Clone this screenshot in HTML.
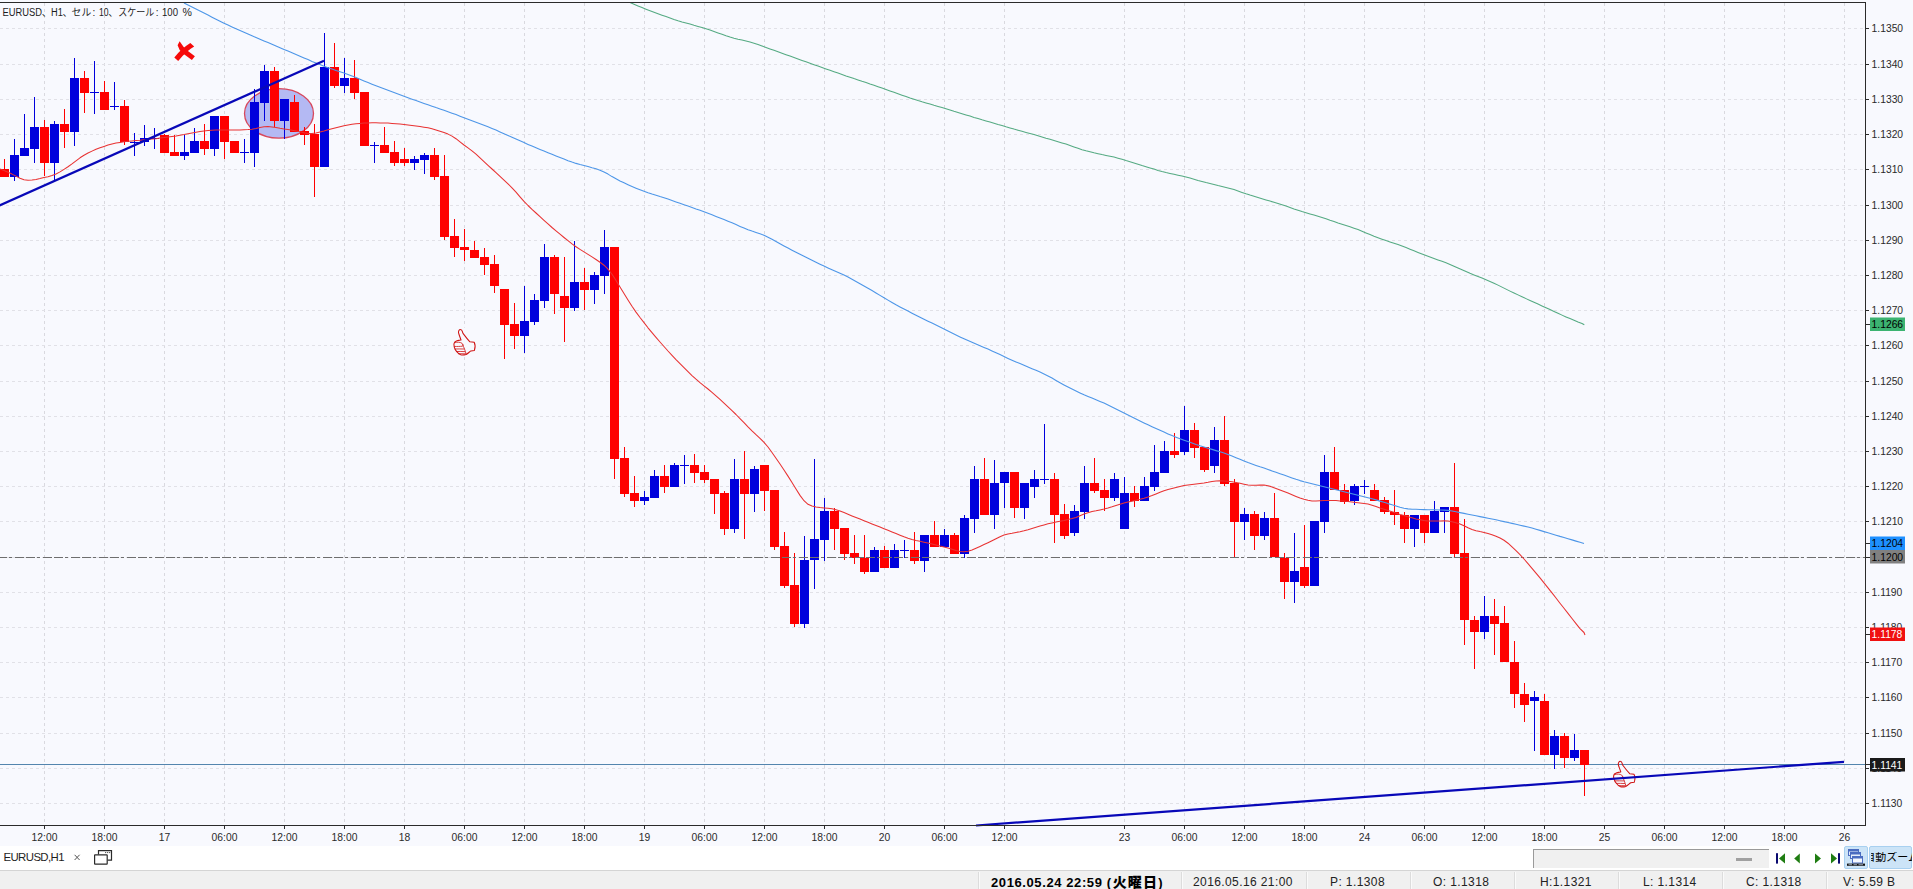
<!DOCTYPE html>
<html lang="ja"><head><meta charset="utf-8"><title>EURUSD,H1</title>
<style>
html,body{margin:0;padding:0}
body{width:1913px;height:889px;position:relative;overflow:hidden;background:#fff;font-family:"Liberation Sans","Noto Sans CJK JP",sans-serif;color:#222}
.abs{position:absolute}
#tabbar{left:0;top:846px;width:1913px;height:24px;background:#fff}
#status{left:0;top:870px;width:1913px;height:19px;background:#f0f0f0;border-top:1px solid #d4d4d4;box-sizing:border-box;font-size:12px;letter-spacing:0.4px}
#status span{position:absolute;top:3.8px;white-space:nowrap;line-height:14px}
#status i{position:absolute;top:1px;width:1px;height:18px;background:#dcdcdc;border-right:1px solid #fafafa}
#tab{left:3.5px;top:850px;font-size:11.4px;letter-spacing:-0.6px;line-height:14px;color:#1e1e1e;white-space:nowrap}
#scroll{left:1533px;top:849px;width:236px;height:19px;background:#f0f0f0;border-top:1px solid #9a9a9a;border-left:1px solid #9a9a9a;box-sizing:border-box}
.btn{background:#cce4f7;border:1px solid #a8d0f0;box-sizing:border-box;top:846px;height:23px;border-radius:2px}
</style></head><body>
<svg width="1913" height="846" viewBox="0 0 1913 846" style="position:absolute;left:0;top:0">
<rect x="0" y="0" width="1913" height="846" fill="#f8f9fe"/>
<path d="M44.5 3V825 M104.5 3V825 M164.5 3V825 M224.5 3V825 M284.5 3V825 M344.5 3V825 M404.5 3V825 M464.5 3V825 M524.5 3V825 M584.5 3V825 M644.5 3V825 M704.5 3V825 M764.5 3V825 M824.5 3V825 M884.5 3V825 M944.5 3V825 M1004.5 3V825 M1124.5 3V825 M1184.5 3V825 M1244.5 3V825 M1304.5 3V825 M1364.5 3V825 M1424.5 3V825 M1484.5 3V825 M1544.5 3V825 M1604.5 3V825 M1664.5 3V825 M1724.5 3V825 M1784.5 3V825 M1844.5 3V825" stroke="#d9d9df" stroke-width="1" stroke-dasharray="3 3" fill="none" shape-rendering="crispEdges"/>
<path d="M0 28.5H1865 M0 64.5H1865 M0 99.5H1865 M0 134.5H1865 M0 169.5H1865 M0 205.5H1865 M0 240.5H1865 M0 275.5H1865 M0 310.5H1865 M0 345.5H1865 M0 381.5H1865 M0 416.5H1865 M0 451.5H1865 M0 486.5H1865 M0 521.5H1865 M0 557.5H1865 M0 592.5H1865 M0 627.5H1865 M0 662.5H1865 M0 697.5H1865 M0 733.5H1865 M0 768.5H1865 M0 803.5H1865" stroke="#e1e1e7" stroke-width="1" stroke-dasharray="3 3" fill="none" shape-rendering="crispEdges"/>
<ellipse cx="279" cy="113.4" rx="34.5" ry="24.7" fill="#b4b9f3" stroke="#d8485c" stroke-width="1.3"/>
<rect x="448.5" y="327.6" width="30" height="29.2" fill="#f8f9fe"/><rect x="1615" y="762" width="16.5" height="25" fill="#f8f9fe"/>
<path d="M0 764.5H1865" stroke="#5385ae" stroke-width="1" fill="none" shape-rendering="crispEdges"/>
<path d="M4 159h1V177h-1z M0 169h9V177h-9z M44 120h1V176h-1z M40 127h9V163h-9z M64 109h1V148h-1z M60 124h9V132h-9z M84 71h1V113h-1z M80 78h9V93h-9z M104 81h1V110h-1z M100 92h9V110h-9z M124 100h1V145h-1z M120 106h9V142h-9z M164 134h1V153h-1z M160 135h9V153h-9z M174 135h1V156h-1z M170 152h9V156h-9z M204 124h1V155h-1z M200 141h9V149h-9z M224 116h1V159h-1z M220 116h9V142h-9z M234 141h1V153h-1z M230 141h9V153h-9z M274 67h1V127h-1z M270 71h9V121h-9z M294 95h1V132h-1z M290 102h9V132h-9z M304 127h1V145h-1z M300 131h9V135h-9z M314 124h1V197h-1z M310 134h9V167h-9z M334 43h1V88h-1z M330 67h9V86h-9z M354 60h1V99h-1z M350 78h9V93h-9z M364 92h1V146h-1z M360 92h9V146h-9z M384 127h1V153h-1z M380 145h9V153h-9z M394 141h1V166h-1z M390 152h9V163h-9z M404 148h1V166h-1z M400 159h9V163h-9z M434 148h1V180h-1z M430 155h9V177h-9z M444 155h1V240h-1z M440 176h9V237h-9z M454 219h1V257h-1z M450 236h9V248h-9z M464 229h1V261h-1z M460 247h9V250h-9z M474 241h1V258h-1z M470 250h9V258h-9z M484 248h1V275h-1z M480 257h9V265h-9z M494 255h1V293h-1z M490 264h9V286h-9z M504 289h1V359h-1z M500 289h9V325h-9z M514 303h1V349h-1z M510 324h9V336h-9z M554 255h1V314h-1z M550 257h9V294h-9z M564 257h1V342h-1z M560 296h9V308h-9z M584 268h1V310h-1z M580 282h9V290h-9z M614 247h1V479h-1z M610 247h9V459h-9z M624 447h1V497h-1z M620 458h9V494h-9z M634 476h1V507h-1z M630 493h9V501h-9z M664 465h1V493h-1z M660 476h9V487h-9z M694 454h1V483h-1z M690 465h9V473h-9z M704 465h1V483h-1z M700 472h9V480h-9z M714 479h1V514h-1z M710 479h9V494h-9z M724 491h1V535h-1z M720 493h9V529h-9z M744 451h1V539h-1z M740 479h9V494h-9z M764 465h1V511h-1z M760 465h9V491h-9z M774 490h1V550h-1z M770 490h9V547h-9z M784 532h1V588h-1z M780 546h9V586h-9z M794 553h1V627h-1z M790 585h9V624h-9z M834 508h1V550h-1z M830 511h9V529h-9z M844 528h1V560h-1z M840 528h9V554h-9z M854 535h1V564h-1z M850 553h9V558h-9z M864 535h1V574h-1z M860 558h9V572h-9z M884 546h1V568h-1z M880 550h9V568h-9z M914 532h1V564h-1z M910 550h9V561h-9z M934 521h1V547h-1z M930 535h9V547h-9z M954 533h1V554h-1z M950 535h9V554h-9z M984 458h1V515h-1z M980 479h9V515h-9z M1014 472h1V518h-1z M1010 472h9V508h-9z M1054 473h1V543h-1z M1050 479h9V515h-9z M1064 504h1V539h-1z M1060 514h9V536h-9z M1094 458h1V493h-1z M1090 483h9V491h-9z M1104 479h1V511h-1z M1100 490h9V498h-9z M1134 486h1V507h-1z M1130 493h9V501h-9z M1174 433h1V458h-1z M1170 451h9V455h-9z M1194 423h1V458h-1z M1190 430h9V448h-9z M1204 447h1V472h-1z M1200 447h9V470h-9z M1224 416h1V486h-1z M1220 440h9V484h-9z M1234 479h1V557h-1z M1230 483h9V522h-9z M1254 511h1V550h-1z M1250 514h9V536h-9z M1274 493h1V557h-1z M1270 518h9V557h-9z M1284 553h1V599h-1z M1280 558h9V582h-9z M1304 525h1V588h-1z M1300 567h9V586h-9z M1334 447h1V490h-1z M1330 472h9V490h-9z M1344 484h1V504h-1z M1340 490h9V502h-9z M1374 484h1V501h-1z M1370 490h9V501h-9z M1384 497h1V514h-1z M1380 500h9V512h-9z M1394 490h1V525h-1z M1390 512h9V515h-9z M1404 512h1V543h-1z M1400 515h9V529h-9z M1424 515h1V543h-1z M1420 515h9V533h-9z M1454 463h1V557h-1z M1450 507h9V554h-9z M1464 519h1V645h-1z M1460 553h9V620h-9z M1474 616h1V669h-1z M1470 620h9V632h-9z M1494 599h1V655h-1z M1490 616h9V624h-9z M1504 606h1V662h-1z M1500 623h9V662h-9z M1514 641h1V708h-1z M1510 662h9V694h-9z M1524 683h1V722h-1z M1520 694h9V705h-9z M1544 694h1V755h-1z M1540 701h9V755h-9z M1564 733h1V768h-1z M1560 736h9V758h-9z M1584 750h1V796h-1z M1580 750h9V765h-9z" fill="#fe0000" shape-rendering="crispEdges"/>
<path d="M14 139h1V181h-1z M10 155h9V177h-9z M24 114h1V156h-1z M20 148h9V156h-9z M34 97h1V163h-1z M30 127h9V149h-9z M54 121h1V181h-1z M50 124h9V163h-9z M74 58h1V146h-1z M70 78h9V132h-9z M94 61h1V114h-1z M90 92h9V93h-9z M114 82h1V110h-1z M110 106h9V107h-9z M134 133h1V156h-1z M130 142h9V143h-9z M144 125h1V146h-1z M140 138h9V142h-9z M154 128h1V149h-1z M150 138h9V139h-9z M184 135h1V160h-1z M180 152h9V156h-9z M194 128h1V153h-1z M190 141h9V153h-9z M214 116h1V156h-1z M210 116h9V149h-9z M244 139h1V163h-1z M240 152h9V153h-9z M254 89h1V167h-1z M250 102h9V153h-9z M264 65h1V121h-1z M260 71h9V103h-9z M284 99h1V139h-1z M280 99h9V121h-9z M324 33h1V167h-1z M320 67h9V167h-9z M344 58h1V93h-1z M340 78h9V86h-9z M374 142h1V163h-1z M370 145h9V146h-9z M414 156h1V170h-1z M410 159h9V163h-9z M424 153h1V174h-1z M420 155h9V160h-9z M524 286h1V353h-1z M520 321h9V336h-9z M534 294h1V325h-1z M530 300h9V322h-9z M544 244h1V308h-1z M540 257h9V301h-9z M574 241h1V311h-1z M570 282h9V308h-9z M594 272h1V304h-1z M590 275h9V290h-9z M604 230h1V294h-1z M600 247h9V276h-9z M644 491h1V505h-1z M640 497h9V501h-9z M654 470h1V498h-1z M650 476h9V498h-9z M674 463h1V487h-1z M670 465h9V487h-9z M684 455h1V484h-1z M680 465h9V466h-9z M734 459h1V533h-1z M730 479h9V529h-9z M754 466h1V512h-1z M750 469h9V494h-9z M804 536h1V628h-1z M800 560h9V624h-9z M814 459h1V589h-1z M810 539h9V560h-9z M824 498h1V561h-1z M820 511h9V540h-9z M874 547h1V572h-1z M870 550h9V572h-9z M894 544h1V568h-1z M890 550h9V568h-9z M904 540h1V558h-1z M900 550h9V551h-9z M924 535h1V572h-1z M920 535h9V561h-9z M944 529h1V547h-1z M940 535h9V547h-9z M964 515h1V558h-1z M960 518h9V554h-9z M974 466h1V533h-1z M970 479h9V519h-9z M994 460h1V529h-1z M990 483h9V515h-9z M1004 472h1V508h-1z M1000 472h9V483h-9z M1024 483h1V519h-1z M1020 483h9V508h-9z M1034 470h1V498h-1z M1030 479h9V487h-9z M1044 424h1V484h-1z M1040 479h9V480h-9z M1074 505h1V536h-1z M1070 511h9V533h-9z M1084 466h1V519h-1z M1080 483h9V512h-9z M1114 473h1V501h-1z M1110 479h9V498h-9z M1124 477h1V529h-1z M1120 493h9V529h-9z M1144 477h1V501h-1z M1140 486h9V501h-9z M1154 445h1V491h-1z M1150 472h9V487h-9z M1164 441h1V473h-1z M1160 451h9V473h-9z M1184 406h1V455h-1z M1180 430h9V452h-9z M1214 427h1V473h-1z M1210 440h9V466h-9z M1244 508h1V540h-1z M1240 514h9V522h-9z M1264 512h1V540h-1z M1260 518h9V536h-9z M1294 533h1V603h-1z M1290 571h9V582h-9z M1314 521h1V586h-1z M1310 521h9V586h-9z M1324 455h1V533h-1z M1320 472h9V522h-9z M1354 484h1V505h-1z M1350 486h9V501h-9z M1364 480h1V494h-1z M1360 486h9V487h-9z M1414 515h1V547h-1z M1410 515h9V529h-9z M1434 501h1V533h-1z M1430 511h9V533h-9z M1444 507h1V533h-1z M1440 507h9V512h-9z M1484 596h1V639h-1z M1480 616h9V632h-9z M1534 691h1V751h-1z M1530 697h9V701h-9z M1554 730h1V769h-1z M1550 736h9V755h-9z M1574 734h1V761h-1z M1570 750h9V758h-9z" fill="#0000dc" shape-rendering="crispEdges"/>
<path d="M-12.7 557.5H1865" stroke="#6e6e6e" stroke-width="1" stroke-dasharray="9 2 9 2 3 3" fill="none" shape-rendering="crispEdges"/>
<path d="M630.0 2.6 L634.0 4.3 L638.0 5.9 L642.0 7.6 L646.0 9.2 L650.0 10.8 L654.0 12.3 L658.0 13.8 L662.0 15.2 L666.0 16.6 L670.0 18.0 L674.0 19.4 L678.0 20.7 L682.0 21.9 L686.0 23.0 L690.0 24.1 L694.0 25.3 L698.0 26.4 L702.0 27.5 L706.0 28.8 L710.0 30.1 L714.0 31.5 L718.0 32.9 L722.0 34.3 L726.0 35.7 L730.0 37.0 L734.0 38.2 L738.0 39.2 L742.0 40.1 L746.0 41.1 L750.0 42.1 L754.0 43.2 L758.0 44.5 L762.0 45.9 L766.0 47.4 L770.0 48.9 L774.0 50.3 L778.0 51.8 L782.0 53.2 L786.0 54.7 L790.0 56.1 L794.0 57.5 L798.0 59.0 L802.0 60.4 L806.0 61.8 L810.0 63.3 L814.0 64.7 L818.0 66.1 L822.0 67.5 L826.0 68.9 L830.0 70.3 L834.0 71.7 L838.0 73.1 L842.0 74.5 L846.0 75.9 L850.0 77.2 L854.0 78.6 L858.0 79.9 L862.0 81.3 L866.0 82.6 L870.0 84.0 L874.0 85.3 L878.0 86.7 L882.0 88.1 L886.0 89.5 L890.0 90.9 L894.0 92.3 L898.0 93.8 L902.0 95.2 L906.0 96.6 L910.0 98.0 L914.0 99.3 L918.0 100.6 L922.0 101.8 L926.0 102.9 L930.0 104.1 L934.0 105.3 L938.0 106.4 L942.0 107.6 L946.0 108.8 L950.0 110.0 L954.0 111.3 L958.0 112.5 L962.0 113.7 L966.0 114.9 L970.0 116.1 L974.0 117.4 L978.0 118.6 L982.0 119.8 L986.0 120.9 L990.0 122.1 L994.0 123.3 L998.0 124.5 L1002.0 125.6 L1006.0 126.8 L1010.0 127.9 L1014.0 129.1 L1018.0 130.2 L1022.0 131.3 L1026.0 132.4 L1030.0 133.5 L1034.0 134.6 L1038.0 135.8 L1042.0 137.0 L1046.0 138.2 L1050.0 139.3 L1054.0 140.5 L1058.0 141.7 L1062.0 142.9 L1066.0 144.1 L1070.0 145.5 L1074.0 146.9 L1078.0 148.3 L1082.0 149.7 L1086.0 150.8 L1090.0 151.8 L1094.0 152.8 L1098.0 153.7 L1102.0 154.6 L1106.0 155.4 L1110.0 156.2 L1114.0 157.1 L1118.0 158.2 L1122.0 159.3 L1126.0 160.6 L1130.0 161.8 L1134.0 163.0 L1138.0 164.2 L1142.0 165.5 L1146.0 166.7 L1150.0 167.9 L1154.0 169.1 L1158.0 170.4 L1162.0 171.5 L1166.0 172.5 L1170.0 173.4 L1174.0 174.3 L1178.0 175.2 L1182.0 176.1 L1186.0 177.0 L1190.0 178.1 L1194.0 179.2 L1198.0 180.4 L1202.0 181.5 L1206.0 182.6 L1210.0 183.6 L1214.0 184.6 L1218.0 185.6 L1222.0 186.5 L1226.0 187.5 L1230.0 188.5 L1234.0 189.6 L1238.0 190.9 L1242.0 192.4 L1246.0 193.8 L1250.0 195.1 L1254.0 196.3 L1258.0 197.5 L1262.0 198.7 L1266.0 199.9 L1270.0 201.1 L1274.0 202.3 L1278.0 203.5 L1282.0 204.8 L1286.0 206.1 L1290.0 207.5 L1294.0 208.9 L1298.0 210.2 L1302.0 211.5 L1306.0 212.7 L1310.0 213.9 L1314.0 215.1 L1318.0 216.3 L1322.0 217.5 L1326.0 218.8 L1330.0 220.2 L1334.0 221.5 L1338.0 222.9 L1342.0 224.2 L1346.0 225.5 L1350.0 226.8 L1354.0 228.2 L1358.0 229.6 L1362.0 231.2 L1366.0 232.9 L1370.0 234.5 L1374.0 236.2 L1378.0 237.7 L1382.0 239.2 L1386.0 240.6 L1390.0 241.9 L1394.0 243.2 L1398.0 244.6 L1402.0 246.1 L1406.0 247.6 L1410.0 249.2 L1414.0 250.8 L1418.0 252.4 L1422.0 253.9 L1426.0 255.5 L1430.0 257.0 L1434.0 258.5 L1438.0 259.9 L1442.0 261.3 L1446.0 262.8 L1450.0 264.4 L1454.0 266.2 L1458.0 267.9 L1462.0 269.7 L1466.0 271.5 L1470.0 273.3 L1474.0 274.9 L1478.0 276.5 L1482.0 278.1 L1486.0 279.7 L1490.0 281.4 L1494.0 283.2 L1498.0 285.1 L1502.0 287.1 L1506.0 289.1 L1510.0 291.1 L1514.0 293.0 L1518.0 294.9 L1522.0 296.7 L1526.0 298.6 L1530.0 300.4 L1534.0 302.3 L1538.0 304.1 L1542.0 305.9 L1546.0 307.8 L1550.0 309.6 L1554.0 311.4 L1558.0 313.2 L1562.0 315.1 L1566.0 316.9 L1570.0 318.6 L1574.0 320.3 L1578.0 322.0 L1582.0 323.5 L1584.3 324.7" stroke="#54aa82" stroke-width="1.05" fill="none" stroke-linejoin="round"/>
<path d="M184.0 3.0 L188.0 5.0 L192.0 7.0 L196.0 9.1 L200.0 11.1 L204.0 13.1 L208.0 15.1 L212.0 17.2 L216.0 19.2 L220.0 21.2 L224.0 23.2 L228.0 25.1 L232.0 26.9 L236.0 28.7 L240.0 30.5 L244.0 32.3 L248.0 34.1 L252.0 35.8 L256.0 37.5 L260.0 39.2 L264.0 40.9 L268.0 42.6 L272.0 44.3 L276.0 46.0 L280.0 47.7 L284.0 49.4 L288.0 51.1 L292.0 52.8 L296.0 54.5 L300.0 56.2 L304.0 57.9 L308.0 59.6 L312.0 61.4 L316.0 63.0 L320.0 64.6 L324.0 66.2 L328.0 67.7 L332.0 69.1 L336.0 70.5 L340.0 71.8 L344.0 73.1 L348.0 74.5 L352.0 76.0 L356.0 77.6 L360.0 79.3 L364.0 80.9 L368.0 82.6 L372.0 84.2 L376.0 85.7 L380.0 87.2 L384.0 88.7 L388.0 90.2 L392.0 91.7 L396.0 93.2 L400.0 94.8 L404.0 96.3 L408.0 97.8 L412.0 99.2 L416.0 100.6 L420.0 102.0 L424.0 103.4 L428.0 104.8 L432.0 106.2 L436.0 107.6 L440.0 108.9 L444.0 110.3 L448.0 111.7 L452.0 113.2 L456.0 114.6 L460.0 116.2 L464.0 117.7 L468.0 119.2 L472.0 120.7 L476.0 122.2 L480.0 123.7 L484.0 125.3 L488.0 126.8 L492.0 128.4 L496.0 130.1 L500.0 131.9 L504.0 133.7 L508.0 135.5 L512.0 137.2 L516.0 139.0 L520.0 140.8 L524.0 142.6 L528.0 144.4 L532.0 146.1 L536.0 147.8 L540.0 149.4 L544.0 151.0 L548.0 152.7 L552.0 154.3 L556.0 155.9 L560.0 157.5 L564.0 159.1 L568.0 160.7 L572.0 162.1 L576.0 163.4 L580.0 164.5 L584.0 165.5 L588.0 166.5 L592.0 167.7 L596.0 168.8 L600.0 170.2 L604.0 171.9 L608.0 174.1 L612.0 176.6 L616.0 178.8 L620.0 180.9 L624.0 182.8 L628.0 184.7 L632.0 186.5 L636.0 188.2 L640.0 189.8 L644.0 191.3 L648.0 192.7 L652.0 194.0 L656.0 195.2 L660.0 196.5 L664.0 197.7 L668.0 199.1 L672.0 200.5 L676.0 201.9 L680.0 203.3 L684.0 204.7 L688.0 206.1 L692.0 207.5 L696.0 208.9 L700.0 210.2 L704.0 211.7 L708.0 213.2 L712.0 214.8 L716.0 216.4 L720.0 218.0 L724.0 219.5 L728.0 221.2 L732.0 222.8 L736.0 224.6 L740.0 226.4 L744.0 228.1 L748.0 229.7 L752.0 231.1 L756.0 232.4 L760.0 233.8 L764.0 235.3 L768.0 237.2 L772.0 239.3 L776.0 241.5 L780.0 243.7 L784.0 245.9 L788.0 248.0 L792.0 250.2 L796.0 252.3 L800.0 254.3 L804.0 256.3 L808.0 258.3 L812.0 260.2 L816.0 262.2 L820.0 264.2 L824.0 266.1 L828.0 268.0 L832.0 269.8 L836.0 271.5 L840.0 273.3 L844.0 275.1 L848.0 277.1 L852.0 279.3 L856.0 281.5 L860.0 283.8 L864.0 286.0 L868.0 288.3 L872.0 290.6 L876.0 293.0 L880.0 295.4 L884.0 297.7 L888.0 300.1 L892.0 302.5 L896.0 304.8 L900.0 306.9 L904.0 309.0 L908.0 311.1 L912.0 313.2 L916.0 315.2 L920.0 317.3 L924.0 319.3 L928.0 321.2 L932.0 323.1 L936.0 325.1 L940.0 327.0 L944.0 328.9 L948.0 330.9 L952.0 332.9 L956.0 334.9 L960.0 336.9 L964.0 338.8 L968.0 340.6 L972.0 342.3 L976.0 344.0 L980.0 345.7 L984.0 347.4 L988.0 349.1 L992.0 350.9 L996.0 352.8 L1000.0 354.6 L1004.0 356.5 L1008.0 358.4 L1012.0 360.2 L1016.0 361.9 L1020.0 363.6 L1024.0 365.3 L1028.0 367.0 L1032.0 368.7 L1036.0 370.3 L1040.0 372.0 L1044.0 373.9 L1048.0 375.9 L1052.0 378.1 L1056.0 380.4 L1060.0 382.7 L1064.0 384.9 L1068.0 387.0 L1072.0 389.0 L1076.0 391.0 L1080.0 392.9 L1084.0 394.8 L1088.0 396.5 L1092.0 398.1 L1096.0 399.7 L1100.0 401.4 L1104.0 403.1 L1108.0 405.0 L1112.0 406.9 L1116.0 408.9 L1120.0 410.9 L1124.0 412.9 L1128.0 414.9 L1132.0 416.9 L1136.0 418.9 L1140.0 420.9 L1144.0 422.9 L1148.0 424.8 L1152.0 426.7 L1156.0 428.5 L1160.0 430.3 L1164.0 432.1 L1168.0 433.9 L1172.0 435.6 L1176.0 437.2 L1180.0 438.7 L1184.0 440.2 L1188.0 441.6 L1192.0 443.1 L1196.0 444.5 L1200.0 445.8 L1204.0 447.0 L1208.0 448.2 L1212.0 449.4 L1216.0 450.6 L1220.0 451.8 L1224.0 453.1 L1228.0 454.5 L1232.0 456.1 L1236.0 457.7 L1240.0 459.3 L1244.0 460.9 L1248.0 462.5 L1252.0 463.9 L1256.0 465.4 L1260.0 466.8 L1264.0 468.1 L1268.0 469.5 L1272.0 470.9 L1276.0 472.3 L1280.0 473.7 L1284.0 475.1 L1288.0 476.5 L1292.0 477.9 L1296.0 479.3 L1300.0 480.6 L1304.0 481.7 L1308.0 482.7 L1312.0 483.7 L1316.0 484.7 L1320.0 485.7 L1324.0 486.7 L1328.0 487.7 L1332.0 488.7 L1336.0 489.7 L1340.0 490.7 L1344.0 491.7 L1348.0 492.7 L1352.0 493.7 L1356.0 494.7 L1360.0 495.7 L1364.0 496.7 L1368.0 497.7 L1372.0 498.8 L1376.0 499.9 L1380.0 501.1 L1384.0 502.3 L1388.0 503.6 L1392.0 504.8 L1396.0 506.0 L1400.0 507.3 L1404.0 508.3 L1408.0 508.9 L1412.0 509.2 L1416.0 509.3 L1420.0 509.5 L1424.0 509.6 L1428.0 509.7 L1432.0 509.8 L1436.0 509.9 L1440.0 510.0 L1444.0 510.1 L1448.0 510.4 L1452.0 511.0 L1456.0 511.8 L1460.0 512.6 L1464.0 513.4 L1468.0 514.2 L1472.0 515.0 L1476.0 515.8 L1480.0 516.6 L1484.0 517.4 L1488.0 518.2 L1492.0 519.0 L1496.0 519.8 L1500.0 520.7 L1504.0 521.6 L1508.0 522.5 L1512.0 523.4 L1516.0 524.3 L1520.0 525.2 L1524.0 526.1 L1528.0 527.0 L1532.0 528.0 L1536.0 529.2 L1540.0 530.4 L1544.0 531.6 L1548.0 532.8 L1552.0 534.0 L1556.0 535.2 L1560.0 536.4 L1564.0 537.5 L1568.0 538.7 L1572.0 539.9 L1576.0 541.1 L1580.0 542.3 L1584.0 543.5" stroke="#4d96e8" stroke-width="1.1" fill="none" stroke-linejoin="round"/>
<path d="M0.0 169.0 L4.0 170.6 L8.0 172.3 L12.0 174.1 L16.0 176.1 L20.0 178.2 L24.0 179.7 L28.0 180.3 L32.0 180.0 L36.0 179.4 L40.0 178.6 L44.0 177.6 L48.0 176.7 L52.0 175.6 L56.0 174.0 L60.0 171.9 L64.0 169.4 L68.0 166.8 L72.0 163.9 L76.0 160.8 L80.0 157.8 L84.0 155.2 L88.0 153.0 L92.0 151.1 L96.0 149.3 L100.0 147.8 L104.0 146.4 L108.0 145.1 L112.0 143.9 L116.0 143.0 L120.0 142.4 L124.0 141.8 L128.0 141.3 L132.0 140.9 L136.0 140.5 L140.0 140.2 L144.0 139.8 L148.0 139.5 L152.0 139.1 L156.0 138.7 L160.0 138.1 L164.0 137.6 L168.0 137.0 L172.0 136.4 L176.0 135.9 L180.0 135.2 L184.0 134.6 L188.0 133.8 L192.0 133.0 L196.0 132.2 L200.0 131.5 L204.0 130.9 L208.0 130.5 L212.0 130.3 L216.0 130.1 L220.0 130.0 L224.0 130.0 L228.0 130.0 L232.0 130.0 L236.0 130.0 L240.0 130.0 L244.0 129.8 L248.0 129.6 L252.0 129.2 L256.0 128.5 L260.0 127.5 L264.0 126.8 L268.0 126.6 L272.0 127.0 L276.0 127.6 L280.0 128.3 L284.0 128.9 L288.0 129.6 L292.0 130.3 L296.0 131.0 L300.0 131.8 L304.0 132.8 L308.0 133.6 L312.0 133.6 L316.0 132.9 L320.0 131.9 L324.0 130.9 L328.0 129.8 L332.0 128.8 L336.0 127.8 L340.0 126.8 L344.0 125.8 L348.0 124.9 L352.0 124.2 L356.0 123.8 L360.0 123.4 L364.0 123.1 L368.0 122.9 L372.0 122.7 L376.0 122.8 L380.0 122.9 L384.0 123.0 L388.0 123.1 L392.0 123.4 L396.0 123.7 L400.0 124.1 L404.0 124.5 L408.0 124.9 L412.0 125.4 L416.0 126.0 L420.0 126.6 L424.0 127.2 L428.0 127.8 L432.0 128.7 L436.0 129.9 L440.0 131.2 L444.0 132.6 L448.0 134.1 L452.0 136.1 L456.0 138.7 L460.0 141.9 L464.0 145.0 L468.0 147.9 L472.0 150.9 L476.0 154.2 L480.0 157.9 L484.0 161.6 L488.0 165.3 L492.0 169.0 L496.0 172.7 L500.0 176.4 L504.0 180.1 L508.0 183.8 L512.0 187.8 L516.0 192.1 L520.0 196.8 L524.0 201.3 L528.0 205.5 L532.0 209.4 L536.0 213.0 L540.0 216.7 L544.0 220.3 L548.0 223.9 L552.0 227.5 L556.0 230.9 L560.0 234.2 L564.0 237.5 L568.0 240.7 L572.0 243.9 L576.0 246.7 L580.0 249.4 L584.0 251.9 L588.0 254.4 L592.0 256.9 L596.0 259.5 L600.0 262.3 L604.0 265.2 L608.0 269.1 L612.0 274.2 L616.0 280.4 L620.0 287.0 L624.0 293.5 L628.0 300.0 L632.0 306.3 L636.0 312.1 L640.0 317.5 L644.0 322.6 L648.0 327.8 L652.0 332.7 L656.0 337.4 L660.0 342.0 L664.0 346.5 L668.0 351.0 L672.0 355.3 L676.0 359.6 L680.0 363.6 L684.0 367.7 L688.0 371.7 L692.0 375.6 L696.0 379.2 L700.0 382.6 L704.0 385.8 L708.0 389.0 L712.0 392.3 L716.0 395.8 L720.0 399.4 L724.0 403.1 L728.0 406.9 L732.0 410.6 L736.0 414.5 L740.0 418.6 L744.0 422.7 L748.0 426.9 L752.0 430.9 L756.0 434.7 L760.0 438.3 L764.0 442.3 L768.0 447.0 L772.0 452.5 L776.0 458.3 L780.0 464.0 L784.0 470.0 L788.0 476.1 L792.0 482.5 L796.0 489.0 L800.0 495.4 L804.0 500.7 L808.0 504.3 L812.0 506.0 L816.0 506.9 L820.0 507.5 L824.0 507.9 L828.0 508.3 L832.0 508.8 L836.0 509.7 L840.0 511.0 L844.0 512.6 L848.0 514.2 L852.0 515.9 L856.0 517.5 L860.0 519.1 L864.0 520.7 L868.0 522.3 L872.0 523.9 L876.0 525.5 L880.0 527.1 L884.0 528.7 L888.0 530.3 L892.0 531.9 L896.0 533.5 L900.0 535.2 L904.0 536.8 L908.0 538.2 L912.0 539.4 L916.0 540.4 L920.0 541.3 L924.0 542.2 L928.0 543.1 L932.0 544.0 L936.0 545.0 L940.0 546.0 L944.0 546.9 L948.0 548.0 L952.0 549.2 L956.0 550.5 L960.0 551.5 L964.0 551.8 L968.0 551.2 L972.0 549.9 L976.0 548.2 L980.0 546.4 L984.0 544.6 L988.0 542.7 L992.0 540.7 L996.0 538.7 L1000.0 536.7 L1004.0 535.1 L1008.0 533.9 L1012.0 533.2 L1016.0 532.4 L1020.0 531.7 L1024.0 530.8 L1028.0 529.7 L1032.0 528.5 L1036.0 527.3 L1040.0 526.1 L1044.0 524.9 L1048.0 523.8 L1052.0 522.9 L1056.0 522.1 L1060.0 521.3 L1064.0 520.5 L1068.0 519.6 L1072.0 518.6 L1076.0 517.4 L1080.0 515.8 L1084.0 514.1 L1088.0 512.8 L1092.0 511.6 L1096.0 510.8 L1100.0 509.9 L1104.0 509.0 L1108.0 507.9 L1112.0 506.7 L1116.0 505.4 L1120.0 504.2 L1124.0 503.1 L1128.0 502.1 L1132.0 501.2 L1136.0 500.2 L1140.0 499.3 L1144.0 498.3 L1148.0 497.1 L1152.0 495.6 L1156.0 493.9 L1160.0 492.2 L1164.0 490.7 L1168.0 489.4 L1172.0 488.4 L1176.0 487.4 L1180.0 486.4 L1184.0 485.6 L1188.0 484.9 L1192.0 484.4 L1196.0 483.9 L1200.0 483.4 L1204.0 482.9 L1208.0 482.3 L1212.0 481.4 L1216.0 480.9 L1220.0 480.8 L1224.0 481.0 L1228.0 481.3 L1232.0 481.8 L1236.0 482.4 L1240.0 483.3 L1244.0 484.2 L1248.0 484.9 L1252.0 485.2 L1256.0 485.2 L1260.0 485.1 L1264.0 485.1 L1268.0 485.7 L1272.0 486.9 L1276.0 488.4 L1280.0 489.9 L1284.0 491.5 L1288.0 493.1 L1292.0 494.8 L1296.0 496.4 L1300.0 497.9 L1304.0 499.2 L1308.0 500.3 L1312.0 500.9 L1316.0 501.1 L1320.0 500.8 L1324.0 500.5 L1328.0 500.4 L1332.0 500.4 L1336.0 500.6 L1340.0 500.9 L1344.0 501.1 L1348.0 501.5 L1352.0 501.9 L1356.0 502.4 L1360.0 502.9 L1364.0 503.4 L1368.0 504.1 L1372.0 505.2 L1376.0 506.5 L1380.0 507.9 L1384.0 509.2 L1388.0 510.5 L1392.0 511.8 L1396.0 513.1 L1400.0 514.4 L1404.0 515.6 L1408.0 516.7 L1412.0 517.8 L1416.0 518.9 L1420.0 519.7 L1424.0 520.5 L1428.0 520.9 L1432.0 521.1 L1436.0 521.0 L1440.0 520.9 L1444.0 520.8 L1448.0 521.1 L1452.0 521.8 L1456.0 522.8 L1460.0 524.1 L1464.0 525.8 L1468.0 527.8 L1472.0 529.5 L1476.0 530.7 L1480.0 531.6 L1484.0 532.4 L1488.0 533.5 L1492.0 534.8 L1496.0 536.3 L1500.0 538.0 L1504.0 540.3 L1508.0 543.2 L1512.0 546.9 L1516.0 550.6 L1520.0 554.6 L1524.0 559.0 L1528.0 563.6 L1532.0 568.3 L1536.0 573.1 L1540.0 577.9 L1544.0 582.8 L1548.0 587.8 L1552.0 592.9 L1556.0 598.0 L1560.0 603.2 L1564.0 608.3 L1568.0 613.4 L1572.0 618.5 L1576.0 623.6 L1580.0 628.6 L1584.0 632.5 L1585.0 635.0" stroke="#e83232" stroke-width="1.05" fill="none" stroke-linejoin="round"/>
<g fill="#f60a0a"><path d="M179.6 41.3L181.9 44.6Q183.6 47.6 186.6 50L194.9 56.3L191.9 60L183 53.6Q178.8 50 177.6 45.2Z"/><path d="M190.3 43.1L194.2 46.5Q186 51.2 178.2 61L174.3 57.6Q181 49 190.3 43.1Z"/></g>
<g transform="translate(453.4 329.1)" stroke="#cf1212" fill="none" stroke-linejoin="round" stroke-linecap="round">
<path stroke-width="1.05" d="M7.6 10.9C6.9 8.5 5.6 5.8 5.1 3.6C5 1.6 6 0.3 6.9 0.3C8.3 0.3 8.8 1.2 9 2.6C9.2 3.6 9.4 4 9.8 4.5C11.5 6.8 13.8 9.8 16.5 12.7L20.8 13.2C21.7 15 21.8 19 21 21.3L17.5 21.8C15.8 23 14.6 24.4 12.6 25.4C10.5 26 8.8 26 7.3 25.7C5.6 25 4.6 24 3.3 22.5C2 21 1.2 19.5 0.8 17.8C0.1 16 0.2 14.4 1.3 12.9C2.4 11.8 4.5 11.2 7.6 10.9Z"/>
<g stroke-width="0.8">
<path d="M1.3 13.6C3.8 12.8 6.8 12.9 8.6 14.2C9.8 15.2 10 16.3 9.2 17.1C6.5 17.3 4 17.5 1 17.3"/>
<path d="M1.8 19.9C4.5 19.9 8 19.7 10.6 19.9"/>
<path d="M3.2 22.4C6 22.4 9 22.3 11.4 22.5"/>
<path d="M5 24.6C7.5 24.7 9.8 24.6 12 24.7"/>
<path d="M9.2 15.5C10.6 18.3 11.9 21.6 12.8 25.2"/>
</g>
</g>
<g transform="translate(1613.2 761.0)" stroke="#cf1212" fill="none" stroke-linejoin="round" stroke-linecap="round">
<path stroke-width="1.05" d="M7.6 10.9C6.9 8.5 5.6 5.8 5.1 3.6C5 1.6 6 0.3 6.9 0.3C8.3 0.3 8.8 1.2 9 2.6C9.2 3.6 9.4 4 9.8 4.5C11.5 6.8 13.8 9.8 16.5 12.7L20.8 13.2C21.7 15 21.8 19 21 21.3L17.5 21.8C15.8 23 14.6 24.4 12.6 25.4C10.5 26 8.8 26 7.3 25.7C5.6 25 4.6 24 3.3 22.5C2 21 1.2 19.5 0.8 17.8C0.1 16 0.2 14.4 1.3 12.9C2.4 11.8 4.5 11.2 7.6 10.9Z"/>
<g stroke-width="0.8">
<path d="M1.3 13.6C3.8 12.8 6.8 12.9 8.6 14.2C9.8 15.2 10 16.3 9.2 17.1C6.5 17.3 4 17.5 1 17.3"/>
<path d="M1.8 19.9C4.5 19.9 8 19.7 10.6 19.9"/>
<path d="M3.2 22.4C6 22.4 9 22.3 11.4 22.5"/>
<path d="M5 24.6C7.5 24.7 9.8 24.6 12 24.7"/>
<path d="M9.2 15.5C10.6 18.3 11.9 21.6 12.8 25.2"/>
</g>
</g>
<path d="M-1 205.6L324 60.7" stroke="#0808b8" stroke-width="2.3" fill="none"/>
<path d="M976 825.5L1844 761.8" stroke="#0808b8" stroke-width="2.2" fill="none"/>
<path d="M0 2.5H1866 M1865.5 2V826 M0 825.5H1866" stroke="#2b2b2b" stroke-width="1.4" fill="none" shape-rendering="crispEdges"/>
<path d="M1866 28.5h3 M1866 64.5h3 M1866 99.5h3 M1866 134.5h3 M1866 169.5h3 M1866 205.5h3 M1866 240.5h3 M1866 275.5h3 M1866 310.5h3 M1866 345.5h3 M1866 381.5h3 M1866 416.5h3 M1866 451.5h3 M1866 486.5h3 M1866 521.5h3 M1866 557.5h3 M1866 592.5h3 M1866 627.5h3 M1866 662.5h3 M1866 697.5h3 M1866 733.5h3 M1866 768.5h3 M1866 803.5h3 M44.5 826v3 M104.5 826v3 M164.5 826v3 M224.5 826v3 M284.5 826v3 M344.5 826v3 M404.5 826v3 M464.5 826v3 M524.5 826v3 M584.5 826v3 M644.5 826v3 M704.5 826v3 M764.5 826v3 M824.5 826v3 M884.5 826v3 M944.5 826v3 M1004.5 826v3 M1124.5 826v3 M1184.5 826v3 M1244.5 826v3 M1304.5 826v3 M1364.5 826v3 M1424.5 826v3 M1484.5 826v3 M1544.5 826v3 M1604.5 826v3 M1664.5 826v3 M1724.5 826v3 M1784.5 826v3 M1844.5 826v3 M1866 324.5h4 M1866 543.5h4 M1866 557.5h4 M1866 634.5h4 M1866 764.5h4" stroke="#2b2b2b" stroke-width="1" fill="none" shape-rendering="crispEdges"/>
<g font-family="Liberation Sans, sans-serif" font-size="10.3" fill="#2a2a2a">
<text x="1871.6" y="32.2">1.1350</text>
<text x="1871.6" y="68.2">1.1340</text>
<text x="1871.6" y="103.2">1.1330</text>
<text x="1871.6" y="138.2">1.1320</text>
<text x="1871.6" y="173.2">1.1310</text>
<text x="1871.6" y="209.2">1.1300</text>
<text x="1871.6" y="244.2">1.1290</text>
<text x="1871.6" y="279.2">1.1280</text>
<text x="1871.6" y="314.2">1.1270</text>
<text x="1871.6" y="349.2">1.1260</text>
<text x="1871.6" y="385.2">1.1250</text>
<text x="1871.6" y="420.2">1.1240</text>
<text x="1871.6" y="455.2">1.1230</text>
<text x="1871.6" y="490.2">1.1220</text>
<text x="1871.6" y="525.2">1.1210</text>
<text x="1871.6" y="561.2">1.1200</text>
<text x="1871.6" y="596.2">1.1190</text>
<text x="1871.6" y="631.2">1.1180</text>
<text x="1871.6" y="666.2">1.1170</text>
<text x="1871.6" y="701.2">1.1160</text>
<text x="1871.6" y="737.2">1.1150</text>
<text x="1871.6" y="772.2">1.1140</text>
<text x="1871.6" y="807.2">1.1130</text>
</g>
<rect x="1870" y="317.5" width="35" height="13.5" fill="#3cb371"/>
<text x="1871.6" y="328.0" font-family="Liberation Sans, sans-serif" font-size="10.3" fill="#000">1.1266</text>
<rect x="1870" y="536.5" width="35" height="13.5" fill="#1e90ff"/>
<text x="1871.6" y="547.0" font-family="Liberation Sans, sans-serif" font-size="10.3" fill="#000">1.1204</text>
<rect x="1870" y="550.0" width="35" height="13.5" fill="#808080"/>
<text x="1871.6" y="560.5" font-family="Liberation Sans, sans-serif" font-size="10.3" fill="#000">1.1200</text>
<rect x="1870" y="627.5" width="35" height="13.5" fill="#f01010"/>
<text x="1871.6" y="638.0" font-family="Liberation Sans, sans-serif" font-size="10.3" fill="#fff">1.1178</text>
<rect x="1870" y="758.0" width="35" height="13.5" fill="#1a1a1a"/>
<text x="1871.6" y="768.5" font-family="Liberation Sans, sans-serif" font-size="10.3" fill="#fff">1.1141</text>
<g font-family="Liberation Sans, sans-serif" font-size="10.3" fill="#2a2a2a" text-anchor="middle">
<text x="44.5" y="840.6">12:00</text>
<text x="104.5" y="840.6">18:00</text>
<text x="164.5" y="840.6">17</text>
<text x="224.5" y="840.6">06:00</text>
<text x="284.5" y="840.6">12:00</text>
<text x="344.5" y="840.6">18:00</text>
<text x="404.5" y="840.6">18</text>
<text x="464.5" y="840.6">06:00</text>
<text x="524.5" y="840.6">12:00</text>
<text x="584.5" y="840.6">18:00</text>
<text x="644.5" y="840.6">19</text>
<text x="704.5" y="840.6">06:00</text>
<text x="764.5" y="840.6">12:00</text>
<text x="824.5" y="840.6">18:00</text>
<text x="884.5" y="840.6">20</text>
<text x="944.5" y="840.6">06:00</text>
<text x="1004.5" y="840.6">12:00</text>
<text x="1124.5" y="840.6">23</text>
<text x="1184.5" y="840.6">06:00</text>
<text x="1244.5" y="840.6">12:00</text>
<text x="1304.5" y="840.6">18:00</text>
<text x="1364.5" y="840.6">24</text>
<text x="1424.5" y="840.6">06:00</text>
<text x="1484.5" y="840.6">12:00</text>
<text x="1544.5" y="840.6">18:00</text>
<text x="1604.5" y="840.6">25</text>
<text x="1664.5" y="840.6">06:00</text>
<text x="1724.5" y="840.6">12:00</text>
<text x="1784.5" y="840.6">18:00</text>
<text x="1844.5" y="840.6">26</text>
</g>
<text y="15.6" font-family="Liberation Sans, Noto Sans CJK JP, sans-serif" font-size="10" fill="#1c1c1c"><tspan x="2.5" textLength="39.5" lengthAdjust="spacingAndGlyphs">EURUSD</tspan><tspan x="41.8">、</tspan><tspan x="51" textLength="11.8" lengthAdjust="spacingAndGlyphs">H1</tspan><tspan x="62.6">、</tspan><tspan x="71.6" textLength="19.6" lengthAdjust="spacingAndGlyphs">セル</tspan><tspan x="92.6">:</tspan><tspan x="98.9" textLength="9.6" lengthAdjust="spacingAndGlyphs">10</tspan><tspan x="108.2">、</tspan><tspan x="118.2" textLength="36.2" lengthAdjust="spacingAndGlyphs">スケール</tspan><tspan x="155.8">:</tspan><tspan x="162" textLength="16" lengthAdjust="spacingAndGlyphs">100</tspan><tspan x="182.6" textLength="9.4" lengthAdjust="spacingAndGlyphs">%</tspan></text>
</svg>
<div id="tabbar" class="abs"></div>
<div id="tab" class="abs">EURUSD,H1</div>
<svg class="abs" style="left:70px;top:848px" width="50" height="20" viewBox="0 0 50 20">
<path d="M4.6 6.8l5 5.2M9.6 6.8l-5 5.2" stroke="#555" stroke-width="1" fill="none"/>
<path d="M28.5 6.5V2.6h13v9.6h-4" stroke="#2a2a2a" stroke-width="1.2" fill="none"/>
<rect x="24.6" y="6.9" width="12.6" height="9.2" rx="0.4" stroke="#2a2a2a" stroke-width="1.2" fill="#fff"/>
<path d="M35.2 4.6h1M37.2 4.6h1M39.2 4.6h1" stroke="#2a2a2a" stroke-width="1"/>
</svg>
<div id="scroll" class="abs"></div>
<div class="abs" style="left:1736px;top:858px;width:16px;height:3px;background:#a0a0a0"></div>
<svg class="abs" style="left:1772px;top:850px" width="72" height="18" viewBox="0 0 72 18">
<rect x="4" y="3.2" width="2" height="10.4" fill="#0a0a70"/><path d="M13 3.2v10.4L7 8.4z" fill="#1f7d12"/>
<path d="M27.8 3.6v10L22.2 8.6z" fill="#1f7d12"/>
<path d="M43 3.6v10L49 8.6z" fill="#1f7d12"/>
<path d="M59 3.2v10.4L65 8.4z" fill="#1f7d12"/><rect x="66" y="3.2" width="2" height="10.4" fill="#0a0a70"/>
</svg>
<div class="abs btn" style="left:1844px;width:23.5px"></div>
<svg class="abs" style="left:1846px;top:848px" width="22" height="20" viewBox="0 0 22 20">
<rect x="2.5" y="1.5" width="10" height="6" fill="#e4eefc" stroke="#4a6cc0"/><rect x="2.5" y="1.5" width="10" height="2" fill="#4a6cc0"/>
<rect x="4.5" y="4.5" width="10" height="6" fill="#e4eefc" stroke="#4a6cc0"/><rect x="4.5" y="4.5" width="10" height="2" fill="#4a6cc0"/>
<rect x="6.5" y="8.5" width="10" height="6.5" fill="#f4f8fe" stroke="#4a6cc0"/><rect x="6.5" y="8.5" width="10" height="2" fill="#4a6cc0"/>
<rect x="1" y="15.6" width="18" height="2.2" fill="#111"/>
<path d="M2.5 16.7h3.5M7.5 16.7h3.5M12.5 16.7h4.5" stroke="#cfe0f4" stroke-width="0.7" fill="none"/>
</svg>
<div class="abs btn" style="left:1868.5px;width:43.5px"></div>
<div class="abs" style="left:1871px;top:852px;width:40.5px;height:13px;overflow:hidden"><div style="margin-left:-6.7px;font-size:11px;line-height:11px;white-space:nowrap;color:#000;font-family:'Liberation Sans','Noto Sans CJK JP',sans-serif">自動ズーム</div></div>
<div id="status" class="abs">
<i style="left:978px"></i><i style="left:1181px"></i><i style="left:1306px"></i><i style="left:1410px"></i><i style="left:1514px"></i><i style="left:1618px"></i><i style="left:1722px"></i><i style="left:1826px"></i>
<span style="left:991px;font-weight:bold;font-size:13px;letter-spacing:0.6px;color:#000">2016.05.24 22:59 (<b style="letter-spacing:1.2px;margin-left:1px;font-size:14px">火曜日</b>)</span>
<span style="left:1193px">2016.05.16 21:00</span>
<span style="left:1330px">P: 1.1308</span>
<span style="left:1433px">O: 1.1318</span>
<span style="left:1540px">H:1.1321</span>
<span style="left:1643px">L: 1.1314</span>
<span style="left:1746px">C: 1.1318</span>
<span style="left:1843px">V: 5.59 B</span>
</div>
</body></html>
